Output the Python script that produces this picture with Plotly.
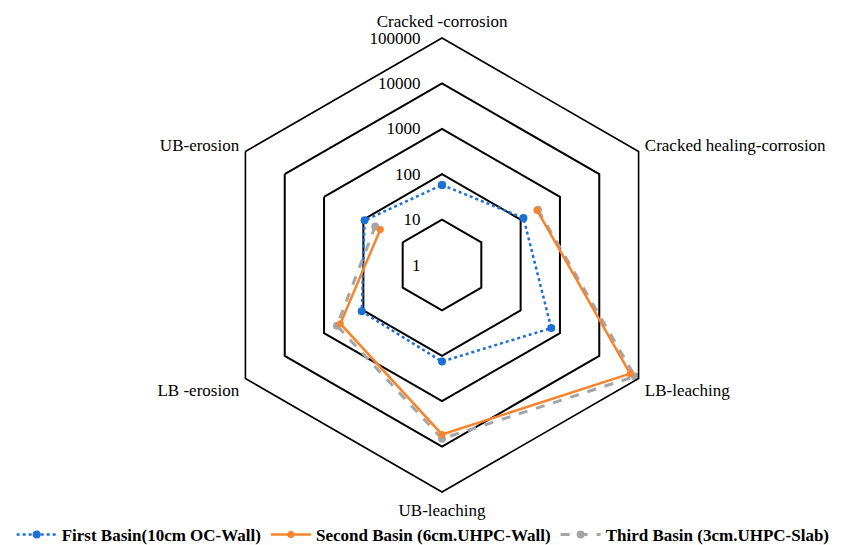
import plotly.graph_objects as go

categories = ["Cracked -corrosion", "Cracked healing-corrosion", "LB-leaching",
              "UB-leaching", "LB -erosion", "UB-erosion"]
first_basin = [58, 118, 600, 134, 110, 93]
second_basin = [None, 260, 61000, 5400, 385, 37]
third_basin = [None, 275, 81000, 6700, 470, 50]
radial_ticks = [1, 10, 100, 1000, 10000, 100000]
radial_ticktext = ["1", "10", "100", "1000", "10000", "100000"]

def closed(v):
    return list(v) + [v[0]]

theta = closed(categories)

fig = go.Figure()
fig.add_trace(go.Scatterpolar(
    r=closed(first_basin), theta=theta, mode="lines+markers",
    name="First Basin(10cm OC-Wall)",
    line=dict(color="#1c6fd4", width=2.5, dash="dot"),
    marker=dict(size=8, color="#1c6fd4"),
))
fig.add_trace(go.Scatterpolar(
    r=closed(third_basin), theta=theta, mode="lines+markers",
    name="Third Basin (3cm.UHPC-Slab)",
    line=dict(color="#a5a5a5", width=3, dash="dash"),
    marker=dict(size=8, color="#a5a5a5"),
    showlegend=False,
))
fig.add_trace(go.Scatterpolar(
    r=closed(second_basin), theta=theta, mode="lines+markers",
    name="Second Basin (6cm.UHPC-Wall)",
    line=dict(color="#f7842c", width=2.5),
    marker=dict(size=7, color="#f7842c"),
))
# legend entry for third basin in correct order
fig.add_trace(go.Scatterpolar(
    r=[None], theta=[categories[0]], mode="lines+markers",
    name="Third Basin (3cm.UHPC-Slab)",
    line=dict(color="#a5a5a5", width=3, dash="dash"),
    marker=dict(size=8, color="#a5a5a5"),
))

fig.update_layout(
    width=856, height=545,
    margin=dict(l=0, r=0, t=0, b=0),
    paper_bgcolor="white",
    font=dict(family="Liberation Serif", size=17, color="black"),
    polar=dict(
        domain=dict(x=[207/856, 661/856], y=[61/545, 515/545]),
        bgcolor="white",
        gridshape="linear",
        angularaxis=dict(
            rotation=90, direction="clockwise",
            showgrid=False, showline=True, linecolor="black", linewidth=1.6,
            ticks="outside", ticklen=3, tickcolor="rgba(0,0,0,0)",
            tickfont=dict(size=17, family="Liberation Serif"),
        ),
        radialaxis=dict(
            type="log", range=[0, 5], angle=90, tickangle=90,
            tickvals=radial_ticks, ticktext=radial_ticktext,
            showline=False, showgrid=True, gridcolor="black", gridwidth=1.6,
            ticks="outside", ticklen=15, tickcolor="rgba(0,0,0,0)",
            side="counterclockwise",
            tickfont=dict(size=17, family="Liberation Serif"),
        ),
    ),
    legend=dict(
        orientation="h", x=0.485, xanchor="center", y=0.0, yanchor="bottom",
        bgcolor="rgba(0,0,0,0)",
        font=dict(family="Liberation Serif", size=17, color="black", weight="bold"),
        itemwidth=40,
    ),
)
fig.write_html("out.html")
